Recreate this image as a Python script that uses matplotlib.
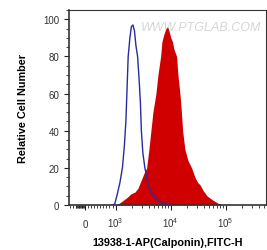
import numpy as np
import matplotlib
matplotlib.use("Agg")
import matplotlib.pyplot as plt
from matplotlib.ticker import FixedLocator, FixedFormatter

plt.rcParams['font.family'] = ['Liberation Sans', 'DejaVu Sans']
plt.rcParams['mathtext.fontset'] = 'custom'
plt.rcParams['mathtext.rm'] = 'Liberation Sans'

# control (isotype) histogram, FITC-H vs count
blue_x = [880, 971, 1056, 1197, 1330, 1445, 1538, 1604, 1694, 1820, 1937, 2064, 2198,
          2339, 2512, 2709, 2825, 2944, 3133, 3409, 3866, 4385, 5184, 6385, 7870, 9700]
blue_y = [0, 0.5, 5, 12, 20, 32, 45, 60, 80, 90, 96, 97, 94,
          86, 80, 65, 55, 40, 28, 20, 12, 7, 4, 2, 1, 0]

# 13938-1-AP (Calponin) stained histogram
red_x = [1012, 1101, 1303, 1604, 1897, 2244, 2541, 2884, 3273, 3664, 4030, 4385, 4766,
         5404, 5875, 6577, 6950, 7551, 8222, 8817, 9311, 10120, 10790, 11480, 12850,
         13580, 14760, 15710, 16520, 18190, 20640, 24100, 27660, 31330, 34110, 38650,
         45700, 56360, 72500, 89300]
red_y = [0, 0.5, 2, 4, 6, 7, 9, 13, 17, 20, 30, 40, 50,
         60, 70, 80, 88, 92, 95, 96, 94, 90, 88, 84, 80,
         70, 60, 50, 40, 30, 24, 20, 15, 12, 11, 8,
         5, 3, 1, 0]

xticks = [0, 1e3, 1e4, 1e5]
xticklabels = ['0', '$10^3$', '$10^4$', '$10^5$']
yticks = [0, 20, 40, 60, 80, 100]

C = 0.558  # width of the linear 0..1000 region, in decades


def fwd(x):
    x = np.asarray(x, dtype=float)
    return np.where(x >= 1000, np.log10(np.maximum(x, 1000)) - 3 + C, x / 1000 * C)


def inv(y):
    y = np.asarray(y, dtype=float)
    return np.where(y >= C, 10 ** (np.maximum(y, C) - C + 3), y / C * 1000)


fig = plt.figure(figsize=(2.67, 2.51), dpi=100)
ax = fig.add_axes([0.258, 0.179, 0.738, 0.777])
ax.set_xscale('function', functions=(fwd, inv))

ax.fill_between(red_x, red_y, 0, color='#d10000', linewidth=0, zorder=2)
ax.plot(blue_x, blue_y, color='#2b2b9c', linewidth=1.0, zorder=3)

ax.set_xlim(-521, 540000)
ax.set_ylim(0, 105)

ax.xaxis.set_major_locator(FixedLocator(xticks))
ax.xaxis.set_major_formatter(FixedFormatter(xticklabels))
minx = (list(range(-500, 1000, 100)) + list(range(-300, 0, 35))
        + [m * 10 ** e for e in (3, 4, 5) for m in range(2, 10)])
ax.xaxis.set_minor_locator(FixedLocator(minx))
ax.yaxis.set_major_locator(FixedLocator(yticks))
ax.yaxis.set_minor_locator(FixedLocator(list(range(0, 106, 5))))

ax.tick_params(axis='both', which='major', labelsize=7, length=3.5, width=0.8,
               colors='#222222', labelcolor='#333333')
ax.tick_params(axis='both', which='minor', length=2, width=0.6, colors='#222222')
ax.tick_params(axis='x', which='major', pad=12)
for lab in ax.get_xticklabels():
    lab.set_va('baseline')

for s in ax.spines.values():
    s.set_color('#333333')
    s.set_linewidth(0.8)
ax.spines['left'].set_linewidth(1.2)
ax.spines['bottom'].set_linewidth(1.2)

ax.set_ylabel('Relative Cell Number', fontsize=7.8, fontweight='bold')
ax.set_xlabel('13938-1-AP(Calponin),FITC-H', fontsize=7.8, fontweight='bold')
ax.yaxis.set_label_coords(-0.21, 0.5)
ax.xaxis.set_label_coords(0.5, -0.165)

ax.text(0.975, 0.945, 'WWW.PTGLAB.COM', transform=ax.transAxes, ha='right', va='top',
        fontsize=9, fontstyle='italic', color='#d6d6d6', zorder=1)

fig.savefig('out.png', dpi=100)
